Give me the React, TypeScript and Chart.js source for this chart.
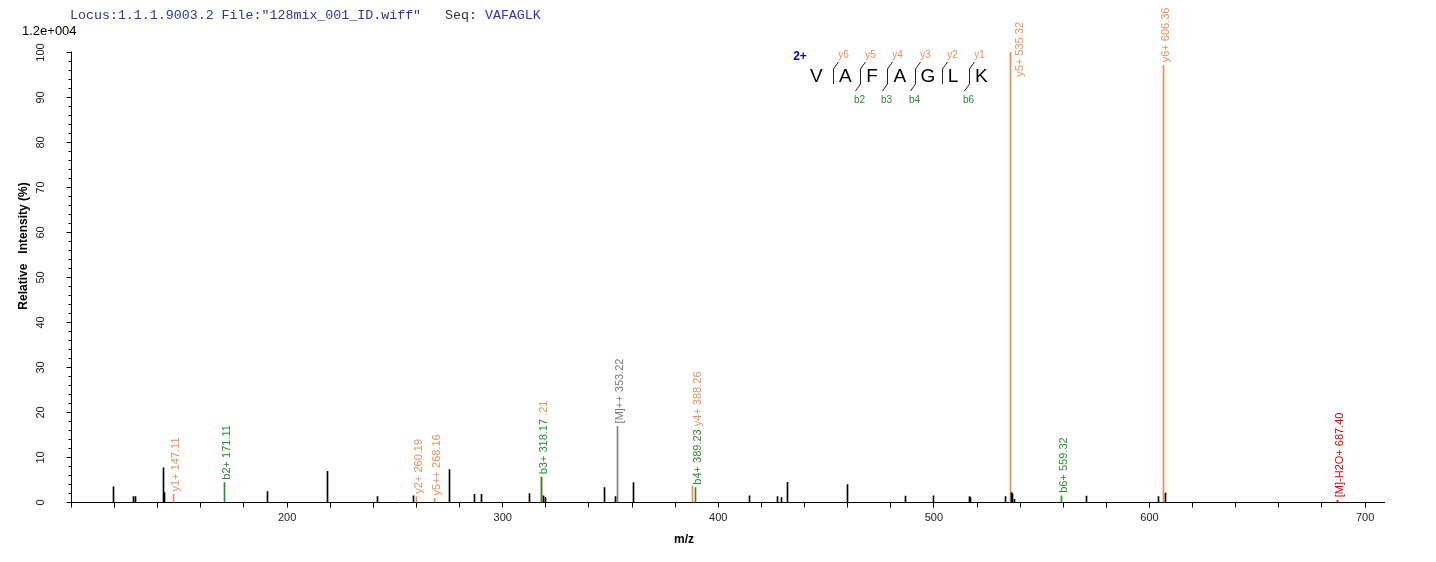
import React, { useEffect, useRef } from 'react';
import { Chart, registerables } from 'chart.js';

Chart.register(...registerables);

// ---- text ----
const HEADER_LOCUS = 'Locus:1.1.1.9003.2 File:"128mix_001_ID.wiff"';
const HEADER_SEQ_LABEL = 'Seq: ';
const SEQUENCE = 'VAFAGLK';
const CHARGE_LABEL = '2+';
const MAX_INTENSITY_LABEL = '1.2e+004';
const X_TITLE = 'm/z';
const Y_TITLE = 'Relative   Intensity (%)';

// ---- axes ----
const X_MIN = 100;
const X_MAX = 709;
const X_TICK_STEP = 20;
const X_LABEL_STEP = 100;
const Y_MIN = 0;
const Y_MAX = 100.5;
const Y_TICK_STEP = 2;
const Y_LABEL_STEP = 10;
const Y_TOP_TICK = 100;

// ---- unannotated peaks ----
const PEAK_MZ = [119.6, 128.7, 129.6, 142.5, 143.0, 190.9, 218.7, 241.7, 258.8, 275.5, 286.8, 290.2, 312.6, 319.0, 319.9, 347.1, 352.5, 360.8, 414.6, 427.6, 429.2, 431.9, 459.8, 486.9, 499.9, 516.6, 517.1, 533.3, 536.0, 536.5, 537.2, 571.0, 604.0, 607.2];
const PEAK_INT = [3.5, 1.3, 1.3, 7.7, 2.2, 2.4, 6.9, 1.3, 1.5, 7.3, 1.8, 1.8, 2.0, 1.5, 1.1, 3.3, 1.3, 4.4, 1.5, 1.3, 1.1, 4.5, 4.0, 1.4, 1.5, 1.3, 1.1, 1.3, 2.2, 2.0, 0.7, 1.4, 1.3, 2.1];

// ---- annotated ion peaks ----
const ION_MZ = [147.11, 171.11, 260.19, 268.16, 318.17, 318.21, 353.22, 389.23, 388.26, 535.32, 559.32, 606.36, 687.40];
const ION_INT = [1.8, 4.4, 1.3, 0.9, 5.6, 5.7, 16.9, 3.3, 3.7, 100, 1.5, 97.1, 0.5];
const ION_TYPE = ['y', 'b', 'y', 'y', 'b', 'y', 'M', 'b', 'y', 'y', 'b', 'y', 'W'];
const ION_LABEL = ['y1+ 147.11', 'b2+ 171.11', 'y2+ 260.19', 'y5++ 268.16', 'b3+ 318.17', '.21', '[M]++ 353.22', 'b4+ 389.23', 'y4+ 388.26', 'y5+ 535.32', 'b6+ 559.32', 'y6+ 606.36', '[M]-H2O+ 687.40'];

// ---- sequence coverage ----
const Y_ION_CUTS = [1, 2, 3, 4, 5, 6];
const B_ION_CUTS = [2, 3, 4, 6];

const TYPE_COLOR: Record<string, string> = {
  y: '#ee8a50',
  b: '#2e8b2e',
  M: '#808080',
  W: '#e00000',
};
const TYPE_TEXT_COLOR: Record<string, string> = {
  y: '#ee8f5c',
  b: '#2e8b2e',
  M: '#7a7a7a',
  W: '#e00000',
};

const decorPlugin = {
  id: 'spectrumDecor',
  beforeDatasetsDraw(chart: any) {
    chart.data.datasets.forEach((_ds: any, i: number) => {
      const meta = chart.getDatasetMeta(i);
      meta.data.forEach((el: any) => {
        el.x = Math.floor(el.x) + 0.5;
      });
    });
  },
  afterDraw(chart: any) {
    const ctx = chart.ctx as CanvasRenderingContext2D;
    const xs = chart.scales.x;
    const ys = chart.scales.y;
    const ca = chart.chartArea;
    ctx.save();

    // y axis
    const ax = Math.round(ca.left - 0.5) + 0.5;
    ctx.strokeStyle = '#000';
    ctx.lineWidth = 1;
    ctx.beginPath();
    ctx.moveTo(ax, Math.round(ys.getPixelForValue(0)) + 0.5);
    ctx.lineTo(ax, Math.round(ys.getPixelForValue(Y_TOP_TICK)) - 0.5);
    ctx.stroke();
    ctx.font = '11px Arial, "Liberation Sans", sans-serif';
    ctx.fillStyle = '#222';
    ctx.textAlign = 'center';
    ctx.textBaseline = 'middle';
    for (let v = 0; v <= Y_TOP_TICK; v += Y_TICK_STEP) {
      const py = Math.round(ys.getPixelForValue(v) - 0.5) + 0.5;
      const major = v % Y_LABEL_STEP === 0;
      const len = major ? 5 : 3;
      ctx.beginPath();
      ctx.moveTo(ax - len, py);
      ctx.lineTo(ax, py);
      ctx.stroke();
      if (major) {
        ctx.save();
        ctx.translate(41, py);
        ctx.rotate(-Math.PI / 2);
        ctx.fillText(String(v), 0, 0);
        ctx.restore();
      }
    }

    // axis titles
    ctx.font = 'bold 12px Arial, "Liberation Sans", sans-serif';
    ctx.fillStyle = '#000';
    ctx.save();
    ctx.translate(24, 246);
    ctx.rotate(-Math.PI / 2);
    ctx.textAlign = 'center';
    ctx.fillText(Y_TITLE, 0, 0);
    ctx.restore();
    ctx.textAlign = 'center';
    ctx.fillText(X_TITLE, 684, 540);

    // scale max label
    ctx.font = '13px Arial, "Liberation Sans", sans-serif';
    ctx.textAlign = 'left';
    ctx.textBaseline = 'alphabetic';
    ctx.fillStyle = '#000';
    ctx.fillText(MAX_INTENSITY_LABEL, 22, 35);

    // header
    ctx.font = '13.3px "Liberation Mono", "Courier New", monospace';
    ctx.textBaseline = 'alphabetic';
    let hx = 70;
    ctx.fillStyle = '#333399';
    ctx.fillText(HEADER_LOCUS, hx, 19);
    hx += ctx.measureText(HEADER_LOCUS + '   ').width;
    ctx.fillStyle = '#333333';
    ctx.fillText(HEADER_SEQ_LABEL, hx, 19);
    hx += ctx.measureText(HEADER_SEQ_LABEL).width;
    ctx.fillStyle = '#3333cc';
    ctx.fillText(SEQUENCE, hx, 19);

    // ion labels
    ctx.font = '11px Arial, "Liberation Sans", sans-serif';
    const spaceW = ctx.measureText(' ').width;
    let prev: any = null;
    for (let i = 0; i < ION_MZ.length; i++) {
      const px = Math.floor(xs.getPixelForValue(ION_MZ[i])) + 0.5;
      const top = ys.getPixelForValue(ION_INT[i]);
      const label = ION_LABEL[i];
      const w = ctx.measureText(label).width;
      let colX = px + 2;
      let bottom = top - 3;
      if (prev && Math.abs(px - prev.px) <= 3) {
        colX = prev.colX;
        bottom = prev.end - spaceW;
      } else if (bottom - w < 5) {
        colX = px + 9;
        bottom = 22 + w;
      }
      ctx.save();
      ctx.translate(colX, bottom);
      ctx.rotate(-Math.PI / 2);
      ctx.textAlign = 'left';
      ctx.textBaseline = 'middle';
      ctx.fillStyle = TYPE_TEXT_COLOR[ION_TYPE[i]];
      ctx.fillText(label, 0, 0);
      ctx.restore();
      prev = { px, colX, end: bottom - w };
    }

    // sequence coverage annotation
    const cuts = [833, 860.2, 887.4, 914.6, 941.8, 969];
    ctx.font = 'bold 12px Arial, "Liberation Sans", sans-serif';
    ctx.fillStyle = '#0000cc';
    ctx.textAlign = 'center';
    ctx.textBaseline = 'middle';
    ctx.fillText(CHARGE_LABEL, 800, 57);
    ctx.font = '19px Arial, "Liberation Sans", sans-serif';
    ctx.fillStyle = '#000';
    ctx.textAlign = 'left';
    ctx.textBaseline = 'alphabetic';
    for (let i = 0; i < SEQUENCE.length; i++) {
      const lx = i === 0 ? 810 : cuts[i - 1] + 6;
      ctx.fillText(SEQUENCE[i], lx, 82);
    }
    ctx.strokeStyle = '#222';
    ctx.lineWidth = 1;
    for (let c = 1; c < SEQUENCE.length; c++) {
      const cx = Math.round(cuts[c - 1]) + 0.5;
      const hasY = Y_ION_CUTS.includes(c);
      const hasB = B_ION_CUTS.includes(c);
      ctx.beginPath();
      ctx.moveTo(cx, 69);
      ctx.lineTo(cx, 84);
      if (hasY) {
        ctx.moveTo(cx, 69);
        ctx.lineTo(cx + 5, 62);
      }
      if (hasB) {
        ctx.moveTo(cx, 84);
        ctx.lineTo(cx - 5, 91);
      }
      ctx.stroke();
      ctx.font = '10px Arial, "Liberation Sans", sans-serif';
      ctx.textAlign = 'center';
      ctx.textBaseline = 'middle';
      if (hasY) {
        ctx.fillStyle = TYPE_TEXT_COLOR.y;
        ctx.fillText('y' + (SEQUENCE.length - c), cx + 10, 55);
      }
      if (hasB) {
        ctx.fillStyle = TYPE_TEXT_COLOR.b;
        ctx.fillText('b' + c, cx - 1, 100);
      }
    }
    ctx.restore();
  },
};

export default function App() {
  const canvasRef = useRef<HTMLCanvasElement | null>(null);

  useEffect(() => {
    const canvas = canvasRef.current;
    if (!canvas) return;

    const datasets: any[] = [
      {
        data: PEAK_MZ.map((mz, i) => ({ x: mz, y: PEAK_INT[i] })),
        backgroundColor: '#000000',
      },
    ];
    ['M', 'b', 'y', 'W'].forEach((t) => {
      const pts: any[] = [];
      ION_MZ.forEach((mz, i) => {
        if (ION_TYPE[i] === t) pts.push({ x: mz, y: ION_INT[i] });
      });
      datasets.push({ data: pts, backgroundColor: TYPE_COLOR[t] });
    });

    const chart = new Chart(canvas, {
      type: 'bar',
      data: { datasets },
      options: {
        animation: false,
        responsive: false,
        maintainAspectRatio: false,
        layout: { padding: { left: 71.5, right: 51.5, top: 50, bottom: 0 } },
        datasets: { bar: { barThickness: 1, grouped: false, borderWidth: 0 } } as any,
        plugins: { legend: { display: false }, tooltip: { enabled: false } },
        scales: {
          x: {
            type: 'linear',
            min: X_MIN,
            max: X_MAX,
            offset: false,
            position: 'bottom',
            grid: { display: true, offset: false, drawOnChartArea: false, drawTicks: true, tickLength: 5, color: '#000', lineWidth: 1 },
            border: { display: true, color: '#000', width: 1 },
            ticks: {
              stepSize: X_TICK_STEP,
              includeBounds: false,
              autoSkip: false,
              maxRotation: 0,
              minRotation: 0,
              padding: 4,
              color: '#222',
              font: { family: 'Arial, "Liberation Sans", sans-serif', size: 11 },
              callback: (v: any) => (Number(v) % X_LABEL_STEP === 0 && Number(v) !== X_MIN ? String(v) : ''),
            },
            afterFit: (s: any) => {
              s.height = 59.5;
            },
          } as any,
          y: { type: 'linear', display: false, min: Y_MIN, max: Y_MAX },
        },
      },
      plugins: [decorPlugin],
    });

    return () => chart.destroy();
  }, []);

  return (
    <div style={{ position: 'absolute', left: 0, top: 0, width: 1436, height: 562, background: '#fff' }}>
      <canvas ref={canvasRef} width={1436} height={562} style={{ width: 1436, height: 562, display: 'block' }} />
    </div>
  );
}
